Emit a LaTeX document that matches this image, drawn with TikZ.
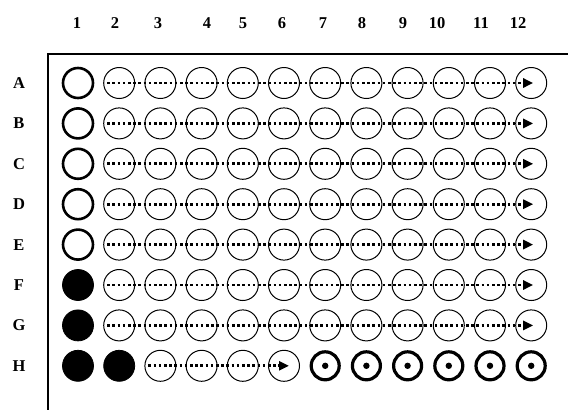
\documentclass[tikz,border=0pt]{standalone}
\usepackage{fontspec}
\setmainfont{Liberation Serif}
\usetikzlibrary{arrows.meta}
\begin{document}
\begin{tikzpicture}[x=1pt,y=-1pt,
  lbl/.style={font=\fontsize{16.5}{18}\selectfont\bfseries, inner sep=0pt},
  well/.style={circle, draw, line width=1pt, minimum size=31pt, inner sep=0pt},
  thickwell/.style={circle, draw, line width=2.6pt, minimum size=30pt, inner sep=0pt},
  fullwell/.style={circle, fill=black, draw, line width=0.8pt, minimum size=31pt, inner sep=0pt},
  ringwell/.style={circle, draw, line width=3.2pt, minimum size=28pt, inner sep=0pt},
  dotarrow/.style={line width=2.8pt, dash pattern=on 2.6pt off 2.6pt, -{Triangle[length=10pt,width=9pt]}, shorten >=-2pt},
  frameline/.style={line width=1.1pt}]
\useasboundingbox (0,0) rectangle (568,410);
% frame
\coordinate (fTL) at (48,54);
\coordinate (fTR) at (568,54);
\coordinate (fBL) at (48,410);
\draw[frameline] (fTR) -- (fTL) -- (fBL);
% column labels
\foreach \lab/\x [count=\i] in {1/77,2/115,3/158,4/207,5/243,6/282,7/323,8/362,9/403,10/437,11/481,12/518}
  \node[lbl] (col\i) at (\x,23) {\lab};
% row labels
\foreach \r [count=\k] in {A,B,C,D,E,F,G,H}{
  \pgfmathsetmacro{\yy}{83+40.4*(\k-1)}
  \node[lbl] (row\r) at (19,\yy) {\r};
}
% well positions
\foreach \r [count=\k] in {A,B,C,D,E,F,G,H}{
  \pgfmathsetmacro{\yy}{83+40.4*(\k-1)}
  \foreach \c in {1,...,12}{
    \pgfmathsetmacro{\xx}{78+41.2*(\c-1)}
    \coordinate (p\r\c) at (\xx,\yy);
  }
}
% column 1 rows A-E thick open
\foreach \r in {A,B,C,D,E}{
  \node[thickwell] (w\r1) at (p\r1) {};
}
\node[fullwell] (wF1) at (pF1) {};
\node[fullwell] (wG1) at (pG1) {};
\node[fullwell] (wH1) at (pH1) {};
\node[fullwell] (wH2) at (pH2) {};
% thin wells rows A-G cols 2-12
\foreach \r in {A,B,C,D,E,F,G}{
  \foreach \c in {2,...,12}{
    \node[well] (w\r\c) at (p\r\c) {};
  }
  \draw[dotarrow] ([xshift=4pt]w\r2.west) -- (w\r12.center);
}
% row H
\foreach \c in {3,...,6}{
  \node[well] (wH\c) at (pH\c) {};
}
\draw[dotarrow] ([xshift=4pt]wH3.west) -- ([xshift=3pt]wH6.center);
\foreach \c in {7,...,12}{
  \node[ringwell] (wH\c) at (pH\c) {};
  \fill (wH\c.center) circle (3.2pt);
}
\end{tikzpicture}
\end{document}
